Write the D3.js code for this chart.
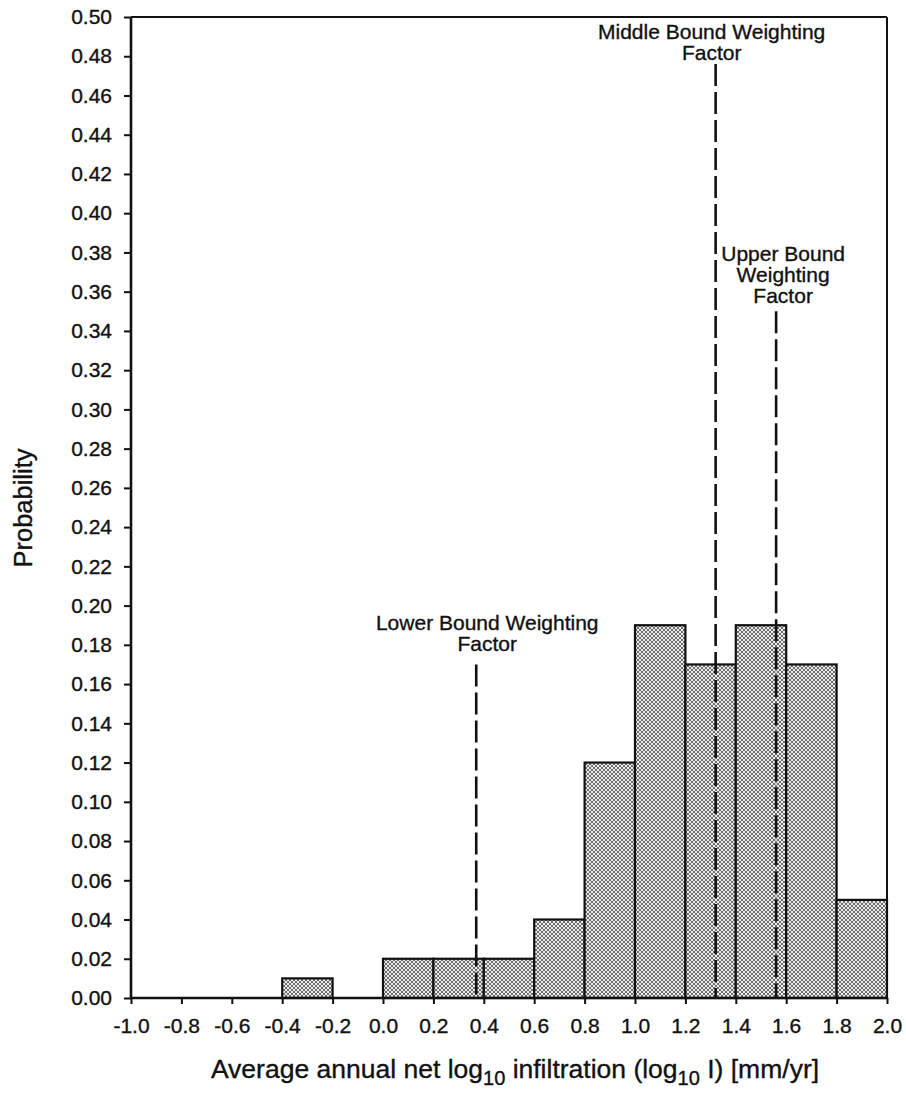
<!DOCTYPE html>
<html>
<head>
<meta charset="utf-8">
<script src="https://cdn.jsdelivr.net/npm/d3@7/dist/d3.min.js"></script>
<style>
  html, body { margin: 0; padding: 0; background: #fff; }
  svg { display: block; }
  text { font-family: "Liberation Sans", Arial, Helvetica, sans-serif; fill: #111; stroke: #111; stroke-width: 0.35px; }
</style>
</head>
<body>
<svg id="chart" width="906" height="1093"></svg>
<script>
// ---- data ----
const binLeft = [-1.0, -0.8, -0.6, -0.4, -0.2, 0.0, 0.2, 0.4, 0.6, 0.8, 1.0, 1.2, 1.4, 1.6, 1.8];
const binRight = [-0.8, -0.6, -0.4, -0.2, 0.0, 0.2, 0.4, 0.6, 0.8, 1.0, 1.2, 1.4, 1.6, 1.8, 2.0];
const probability = [0, 0, 0, 0.01, 0, 0.02, 0.02, 0.02, 0.04, 0.12, 0.19, 0.17, 0.19, 0.17, 0.05];

const xTicks = [-1.0, -0.8, -0.6, -0.4, -0.2, 0.0, 0.2, 0.4, 0.6, 0.8, 1.0, 1.2, 1.4, 1.6, 1.8, 2.0];
const yTicks = d3.range(0, 26).map(i => +(i * 0.02).toFixed(2));

const boundNames = ["Lower", "Middle", "Upper"];
const boundX = [0.37, 1.32, 1.56];
const boundTop = [0.17, 0.476, 0.35];
const boundLabels = [
  ["Lower Bound Weighting", "Factor"],
  ["Middle Bound Weighting", "Factor"],
  ["Upper Bound", "Weighting", "Factor"]
];

const xTitleMain = "Average annual net log";
const yTitle = "Probability";

// ---- layout ----
const W = 906, H = 1093;
const margin = { top: 17, right: 19, bottom: 95, left: 131 };
const iw = W - margin.left - margin.right;
const ih = H - margin.top - margin.bottom;

const svg = d3.select("#chart");

const defs = svg.append("defs");
const pat = defs.append("pattern")
  .attr("id", "stipple").attr("patternUnits", "userSpaceOnUse")
  .attr("width", 4).attr("height", 4);
pat.append("rect").attr("width", 4).attr("height", 4).attr("fill", "#ececec");
pat.append("rect").attr("x", 0).attr("y", 0).attr("width", 2).attr("height", 2).attr("fill", "#6e6e6e");
pat.append("rect").attr("x", 2).attr("y", 2).attr("width", 2).attr("height", 2).attr("fill", "#6e6e6e");

const g = svg.append("g").attr("transform", `translate(${margin.left},${margin.top})`);

const x = d3.scaleLinear().domain([-1.0, 2.0]).range([0, iw]);
const y = d3.scaleLinear().domain([0, 0.5]).range([ih, 0]);

// bars
const bins = binLeft.map((l, i) => ({ l, r: binRight[i], p: probability[i] })).filter(d => d.p > 0);
g.selectAll("rect.bar").data(bins).enter().append("rect")
  .attr("class", "bar")
  .attr("x", d => x(d.l))
  .attr("y", d => y(d.p))
  .attr("width", d => x(d.r) - x(d.l))
  .attr("height", d => y(0) - y(d.p))
  .attr("fill", "url(#stipple)")
  .attr("stroke", "#111")
  .attr("stroke-width", 2.2);

// frame top & right
g.append("line").attr("x1", 0).attr("x2", iw).attr("y1", 0).attr("y2", 0)
  .attr("stroke", "#111").attr("stroke-width", 2);
g.append("line").attr("x1", iw).attr("x2", iw).attr("y1", 0).attr("y2", ih)
  .attr("stroke", "#111").attr("stroke-width", 2);

// dashed bound lines
const bounds = boundNames.map((n, i) => ({ n, x: boundX[i], top: boundTop[i], label: boundLabels[i] }));
g.selectAll("line.bound").data(bounds).enter().append("line")
  .attr("class", "bound")
  .attr("x1", d => x(d.x)).attr("x2", d => x(d.x))
  .attr("y1", d => y(d.top)).attr("y2", y(0))
  .attr("stroke", "#111").attr("stroke-width", 2.6)
  .attr("stroke-dasharray", "22,6");

const labelDx = { Lower: 11, Middle: -4, Upper: 7 };
const labelGap = { Lower: 13, Middle: 4, Upper: 8 };
const lineH = 21;
bounds.forEach(d => {
  const n = d.label.length;
  const cx = x(d.x) + labelDx[d.n];
  const lastBase = y(d.top) - labelGap[d.n];
  const t = g.append("text").attr("text-anchor", "middle").attr("font-size", 21);
  d.label.forEach((s, i) => {
    t.append("tspan").attr("x", cx).attr("y", lastBase - (n - 1 - i) * lineH).text(s);
  });
});

// axes
const fmtX = v => (v < 0 ? "-" : "") + Math.abs(v).toFixed(1);
const xAxis = d3.axisBottom(x).tickValues(xTicks).tickFormat(fmtX).tickSize(6).tickPadding(14);
const yAxis = d3.axisLeft(y).tickValues(yTicks).tickFormat(d3.format(".2f")).tickSize(7).tickPadding(12);

const gx = g.append("g").attr("transform", `translate(0,${ih})`).call(xAxis);
const gy = g.append("g").call(yAxis);

[gx, gy].forEach(a => {
  a.select(".domain").attr("stroke", "#111").attr("stroke-width", 2.6);
  a.selectAll(".tick line").attr("stroke", "#111").attr("stroke-width", 2);
  a.selectAll(".tick text").attr("font-size", 21).attr("fill", "#111")
    .attr("font-family", "'Liberation Sans', Arial, sans-serif");
});
gx.select(".domain").attr("d", `M0,0H${iw}`);
gy.select(".domain").attr("d", `M0,${ih}V0`);

// x title
const xt = svg.append("text")
  .attr("x", 515).attr("y", 1078)
  .attr("text-anchor", "middle").attr("font-size", 26.5);
xt.append("tspan").text(xTitleMain);
xt.append("tspan").attr("font-size", 20).attr("dy", 7).text("10");
xt.append("tspan").attr("dy", -7).text(" infiltration (log");
xt.append("tspan").attr("font-size", 20).attr("dy", 7).text("10");
xt.append("tspan").attr("dy", -7).text(" I) [mm/yr]");

// y title
svg.append("text")
  .attr("transform", `translate(32,508) rotate(-90)`)
  .attr("text-anchor", "middle").attr("font-size", 25.5)
  .text(yTitle);
</script>
</body>
</html>
